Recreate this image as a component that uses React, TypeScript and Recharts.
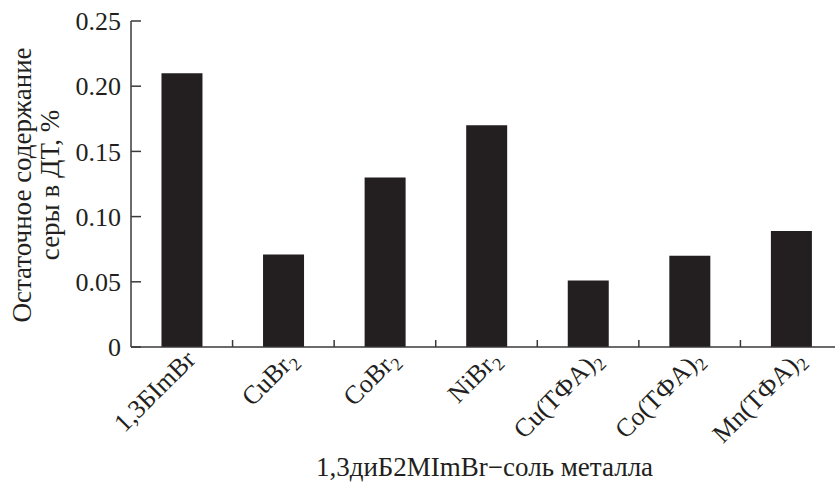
import React from 'react';
import { BarChart, Bar, XAxis, YAxis } from 'recharts';

const categories = ['1,3БImBr', 'CuBr|2', 'CoBr|2', 'NiBr|2', 'Cu(TФA)|2', 'Co(TФA)|2', 'Mn(TФA)|2'];
const values = [0.21, 0.071, 0.13, 0.17, 0.051, 0.07, 0.089];
const yTicks = [0, 0.05, 0.1, 0.15, 0.2, 0.25];
const yLabelLines = ['Остаточное содержание', 'серы в ДТ, %'];
const xTitle = '1,3диБ2MImBr−соль металла';

const data = categories.map((c, i) => ({ name: c, value: values[i] }));

const FONT = '"Liberation Serif", "Times New Roman", serif';
const INK = '#231f20';
const AXIS = '#3a3a3a';

const XTick = (props: any) => {
  const { x, y, payload, index } = props;
  const [main, sub] = String(payload.value).split('|');
  const tx = x + 15;
  const ty = y + 14;
  const off = payload.offset || 0;
  return (
    <g>
      {index < categories.length - 1 && (
        <line x1={x + off} y1={y} x2={x + off} y2={y - 7} stroke={AXIS} strokeWidth={1.5} />
      )}
      <text
        x={tx}
        y={ty}
        textAnchor="end"
        transform={`rotate(-45, ${tx}, ${ty})`}
        fontFamily={FONT}
        fontSize={26}
        fill={INK}
      >
        <tspan>{main}</tspan>
        {sub && (
          <tspan dy={6} fontSize={18}>
            {sub}
          </tspan>
        )}
      </text>
    </g>
  );
};

const YTick = (props: any) => {
  const { x, y, payload } = props;
  const v = payload.value;
  const label = v === 0 ? '0' : v.toFixed(2);
  return (
    <g>
      <line x1={x} y1={y} x2={x + 10} y2={y} stroke={AXIS} strokeWidth={1.5} />
      <text x={x - 10} y={y} dy="0.35em" textAnchor="end" fontFamily={FONT} fontSize={26} fill={INK}>
        {label}
      </text>
    </g>
  );
};

const YLabel = (props: any) => {
  const { viewBox } = props;
  const cy = viewBox.y + viewBox.height / 2 + 1;
  const xs = [22, 50];
  return (
    <g>
      {yLabelLines.map((t, i) => (
        <text
          key={i}
          x={xs[i]}
          y={cy}
          dy="0.35em"
          textAnchor="middle"
          transform={`rotate(-90, ${xs[i]}, ${cy})`}
          fontFamily={FONT}
          fontSize={27}
          fill={INK}
        >
          {t}
        </text>
      ))}
    </g>
  );
};

const XLabel = (props: any) => {
  const { viewBox } = props;
  const cx = viewBox.x + viewBox.width / 2 - 2;
  return (
    <text x={cx} y={viewBox.y + 129} textAnchor="middle" fontFamily={FONT} fontSize={27} fill={INK}>
      {xTitle}
    </text>
  );
};

export default function App() {
  return (
    <div style={{ position: 'absolute', left: 0, top: 0, width: 835, height: 482, overflow: 'hidden', background: '#fff' }}>
      <BarChart width={835} height={482} data={data} margin={{ top: 21, right: -7, bottom: 0, left: 0 }} barCategoryGap="30%">
        <XAxis
          dataKey="name"
          height={135}
          interval={0}
          tickLine={false}
          tickSize={0}
          tickMargin={0}
          tick={<XTick />}
          axisLine={{ stroke: AXIS, strokeWidth: 1.5 }}
          label={<XLabel />}
        />
        <YAxis
          width={131}
          domain={[0, 0.25]}
          ticks={yTicks}
          interval={0}
          tickLine={false}
          tickSize={0}
          tickMargin={0}
          tick={<YTick />}
          axisLine={{ stroke: AXIS, strokeWidth: 1.5 }}
          label={<YLabel />}
        />
        <Bar dataKey="value" fill={INK} isAnimationActive={false} />
      </BarChart>
    </div>
  );
}
